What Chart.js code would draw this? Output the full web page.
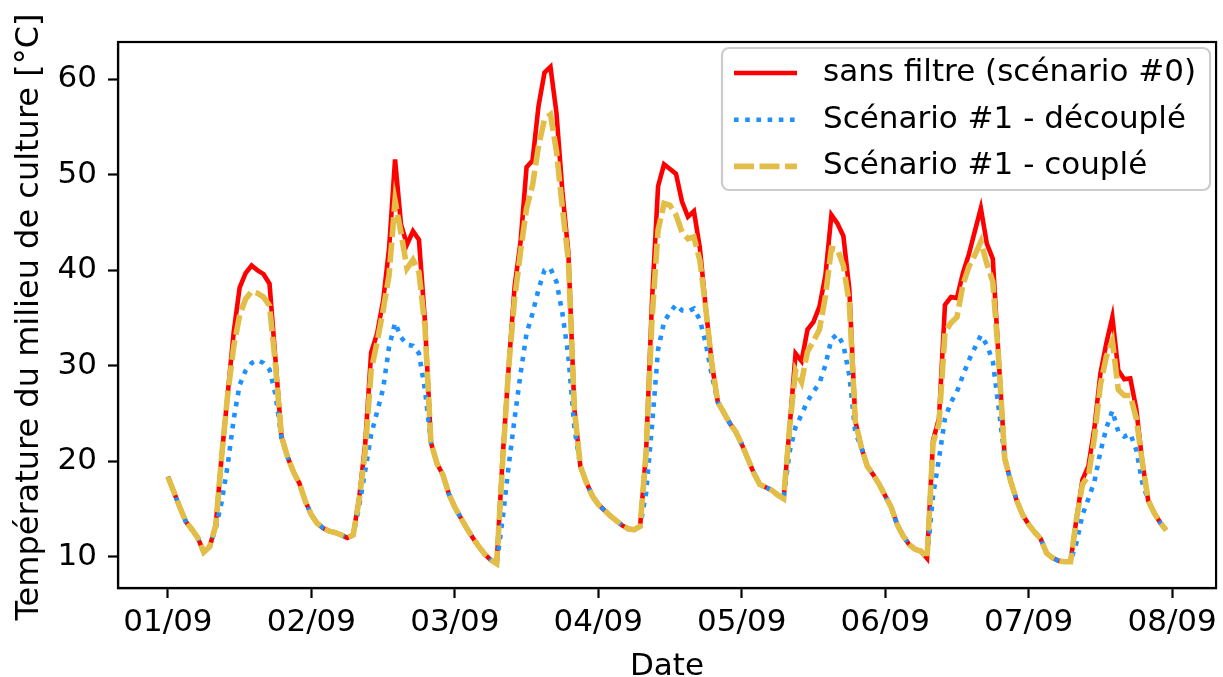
<!DOCTYPE html>
<html lang="fr">
<head>
<meta charset="utf-8">
<title>Température du milieu de culture</title>
<script src="https://cdn.jsdelivr.net/npm/chart.js@4.4.0/dist/chart.umd.min.js"></script>
<style>
  html, body { margin: 0; padding: 0; background: #fff; }
  #graphe { display: block; }
</style>
</head>
<body>
<canvas id="graphe" width="1223" height="677"></canvas>
<script>
// libellés des jours (un tick toutes les 24 h)
const jours = ['01/09', '02/09', '03/09', '04/09', '05/09', '06/09', '07/09', '08/09']
const graduationsY = [10, 20, 30, 40, 50, 60]
const titreAxeY = 'Température du milieu de culture [°C]'

// valeurs horaires, une ligne par jour
const sansFiltre = [
  18.4, 16.8, 15.2, 13.7, 12.9, 12.0, 10.5, 11.1, 13.3, 20.6, 27.0, 33.5, 38.2, 39.7, 40.5, 40.0, 39.6, 38.6, 30.6, 22.6, 20.5, 18.9, 17.7, 15.8,
  14.4, 13.5, 13.0, 12.7, 12.55, 12.3, 12.0, 12.3, 16.2, 21.8, 31.4, 33.4, 36.8, 42.3, 51.6, 44.8, 42.7, 44.1, 43.2, 34.7, 22.0, 19.8, 18.6, 16.6,
  15.2, 14.1, 13.0, 12.0, 11.1, 10.3, 9.7, 9.3, 20.4, 29.8, 38.3, 43.0, 50.8, 51.5, 57.2, 60.7, 61.3, 56.5, 48.2, 41.8, 25.5, 19.5, 17.8, 16.4,
  15.5, 14.9, 14.3, 13.8, 13.3, 12.95, 12.85, 13.2, 21.0, 37.0, 48.8, 51.1, 50.6, 50.1, 47.2, 45.6, 46.2, 42.3, 35.9, 30.2, 26.2, 25.1, 24.0, 23.1,
  21.8, 20.3, 18.8, 17.6, 17.3, 17.0, 16.5, 16.1, 23.5, 31.3, 30.5, 33.8, 34.6, 36.2, 39.5, 45.8, 44.9, 43.6, 38.0, 24.2, 21.5, 19.5, 18.6, 17.6,
  16.4, 15.2, 13.4, 12.2, 11.3, 10.8, 10.6, 9.86, 22.2, 24.5, 36.4, 37.2, 37.1, 39.7, 41.7, 44.1, 46.5, 42.8, 41.2, 30.5, 20.3, 17.9, 15.9, 14.4,
  13.4, 12.6, 11.9, 10.4, 9.9, 9.6, 9.5, 9.5, 14.0, 18.1, 19.5, 23.5, 29.2, 32.4, 35.1, 29.5, 28.6, 28.7, 25.5, 20.0, 15.9, 14.6, 13.6, 12.8
]
const decouple = [
  18.4, 16.8, 15.2, 13.7, 12.9, 12.0, 10.5, 11.1, 13.0, 15.8, 19.6, 24.4, 28.0, 29.5, 30.3, 30.6, 30.3, 29.6, 27.0, 22.4, 20.5, 18.9, 17.7, 15.8,
  14.4, 13.5, 13.0, 12.7, 12.55, 12.3, 12.0, 12.3, 15.3, 19.0, 22.8, 25.2, 27.6, 32.0, 34.5, 33.0, 32.2, 32.1, 31.3, 27.5, 22.0, 19.8, 18.6, 16.6,
  15.2, 14.1, 13.0, 12.0, 11.1, 10.3, 9.7, 9.3, 14.0, 19.5, 24.5, 29.2, 33.4, 35.5, 38.0, 40.0, 40.2, 38.8, 35.5, 31.0, 23.5, 19.5, 17.8, 16.4,
  15.5, 14.9, 14.3, 13.8, 13.3, 12.95, 12.85, 13.2, 16.7, 23.8, 31.7, 34.6, 35.6, 36.4, 35.8, 35.7, 36.0, 34.8, 32.3, 29.0, 26.2, 25.1, 24.0, 23.1,
  21.8, 20.3, 18.8, 17.6, 17.3, 17.0, 16.5, 16.1, 21.0, 23.6, 24.9, 26.3, 27.3, 28.2, 30.1, 32.8, 33.3, 32.2, 29.0, 23.0, 21.5, 19.5, 18.6, 17.6,
  16.4, 15.2, 13.4, 12.2, 11.3, 10.8, 10.6, 9.86, 16.4, 20.3, 24.5, 26.2, 27.3, 29.0, 30.6, 31.9, 33.2, 32.2, 30.5, 25.5, 20.3, 17.9, 15.9, 14.4,
  13.4, 12.6, 11.9, 10.4, 9.9, 9.6, 9.5, 9.5, 11.5, 14.4, 16.1, 17.9, 21.0, 23.5, 25.3, 23.1, 22.6, 22.9, 21.2, 17.8, 15.9, 14.6, 13.6, 12.8
]
const couple = [
  18.4, 16.8, 15.2, 13.7, 12.9, 12.0, 10.5, 11.1, 13.3, 20.6, 27.0, 32.0, 35.3, 37.0, 37.8, 37.6, 37.2, 36.3, 30.0, 22.6, 20.5, 18.9, 17.7, 15.8,
  14.4, 13.5, 13.0, 12.7, 12.55, 12.3, 12.0, 12.3, 16.0, 21.0, 29.5, 32.5, 35.8, 39.5, 47.3, 43.9, 40.2, 41.1, 39.8, 34.1, 22.0, 19.8, 18.6, 16.6,
  15.2, 14.1, 13.0, 12.0, 11.1, 10.3, 9.7, 9.3, 20.0, 29.8, 37.0, 42.0, 46.5, 48.9, 53.0, 55.8, 56.3, 52.5, 46.5, 41.0, 25.5, 19.5, 17.8, 16.4,
  15.5, 14.9, 14.3, 13.8, 13.3, 12.95, 12.85, 13.2, 21.0, 35.0, 44.2, 47.0, 46.8, 45.8, 44.0, 43.3, 43.5, 41.0, 35.9, 30.2, 26.2, 25.1, 24.0, 23.1,
  21.8, 20.3, 18.8, 17.6, 17.3, 17.0, 16.5, 16.1, 23.5, 29.5, 28.3, 31.5, 32.6, 33.8, 37.3, 42.3, 42.2, 40.5, 36.5, 24.2, 21.5, 19.5, 18.6, 17.6,
  16.4, 15.2, 13.4, 12.2, 11.3, 10.8, 10.6, 9.86, 21.9, 24.0, 33.5, 34.5, 35.1, 38.5, 40.4, 41.6, 43.0, 40.7, 38.8, 30.5, 20.3, 17.9, 15.9, 14.4,
  13.4, 12.6, 11.9, 10.4, 9.9, 9.6, 9.5, 9.5, 14.0, 17.6, 18.5, 22.5, 28.0, 31.0, 32.6, 27.5, 26.9, 26.9, 24.5, 20.0, 15.9, 14.6, 13.6, 12.8
]

const police = '"DejaVu Sans", sans-serif'

// x = heure depuis le 01/09 00:00
function points(valeurs) {
  return valeurs.map((v, h) => ({ x: h, y: v }))
}

// cadre complet autour de la zone de tracé
const cadre = {
  id: 'cadre',
  afterDatasetsDraw(chart) {
    const { ctx, chartArea: a } = chart
    ctx.save()
    ctx.strokeStyle = '#000'
    ctx.lineWidth = 2.2
    ctx.strokeRect(a.left, a.top, a.right - a.left, a.bottom - a.top)
    ctx.restore()
  }
}

// titre vertical (trop long pour le titre d'axe de Chart.js)
const titreY = {
  id: 'titreY',
  afterDraw(chart) {
    const { ctx, chartArea: a } = chart
    ctx.save()
    ctx.translate(30, (a.top + a.bottom) / 2 + 2)
    ctx.rotate(-Math.PI / 2)
    ctx.font = '32px ' + police
    ctx.fillStyle = '#000'
    ctx.textAlign = 'center'
    ctx.textBaseline = 'middle'
    ctx.fillText(titreAxeY, 0, 0)
    ctx.restore()
  }
}

// légende dans le coin haut droit, façon matplotlib
const legende = {
  id: 'legende',
  afterDraw(chart) {
    const { ctx, chartArea: a } = chart
    const series = chart.data.datasets
    ctx.save()
    ctx.font = '31px ' + police
    const largeur = 101 + Math.max(...series.map(d => ctx.measureText(d.label).width)) + 14
    const hauteur = 142
    const x = a.right - 6 - largeur
    const y = a.top + 6
    ctx.beginPath()
    ctx.roundRect(x, y, largeur, hauteur, 7)
    ctx.fillStyle = 'rgba(255,255,255,0.8)'
    ctx.fill()
    ctx.strokeStyle = '#cccccc'
    ctx.lineWidth = 2.2
    ctx.stroke()
    series.forEach((d, i) => {
      const cy = y + 25 + i * 46.7
      ctx.beginPath()
      ctx.setLineDash(d.borderDash || [])
      ctx.lineCap = 'butt'
      ctx.strokeStyle = d.borderColor
      ctx.lineWidth = d.borderWidth
      ctx.moveTo(x + 12, cy)
      ctx.lineTo(x + 75, cy)
      ctx.stroke()
      ctx.setLineDash([])
      ctx.fillStyle = '#000'
      ctx.textBaseline = 'middle'
      ctx.fillText(d.label, x + 101, cy)
    })
    ctx.restore()
  }
}

new Chart(document.getElementById('graphe'), {
  type: 'line',
  data: {
    datasets: [
      { label: 'sans filtre (scénario #0)', data: points(sansFiltre), borderColor: '#ff0000', borderWidth: 4.6, order: 3 },
      { label: 'Scénario #1 - découplé', data: points(decouple), borderColor: '#1e90ff', borderWidth: 4.6, borderDash: [4.6, 6.6], order: 2 },
      { label: 'Scénario #1 - couplé', data: points(couple), borderColor: '#e2be48', borderWidth: 5.6, borderDash: [20, 5.5], order: 1 }
    ]
  },
  options: {
    responsive: false,
    animation: false,
    devicePixelRatio: 1,
    layout: { padding: { top: 42, right: 5, bottom: 0, left: 0 } },
    elements: {
      point: { radius: 0 },
      line: { tension: 0, fill: false, borderCapStyle: 'butt' }
    },
    plugins: { legend: { display: false }, tooltip: { enabled: false } },
    scales: {
      x: {
        type: 'linear',
        min: -8.35,
        max: 175.35,
        afterBuildTicks: s => { s.ticks = jours.map((_, i) => ({ value: i * 24 })) },
        afterFit: s => { s.height = 89 },
        ticks: {
          autoSkip: false,
          maxRotation: 0,
          padding: 6,
          color: '#000',
          font: { family: police, size: 31, lineHeight: 1.2 },
          callback: v => jours[Math.round(v / 24)]
        },
        grid: { drawOnChartArea: false, drawTicks: true, tickLength: 10, tickWidth: 2.2, tickColor: '#000' },
        border: { display: true, color: '#000', width: 2.2 },
        title: {
          display: true,
          text: 'Date',
          color: '#000',
          font: { family: police, size: 31, lineHeight: 1 },
          padding: { top: 0, bottom: -5 }
        }
      },
      y: {
        type: 'linear',
        min: 6.75,
        max: 63.9,
        afterBuildTicks: s => { s.ticks = graduationsY.map(v => ({ value: v })) },
        afterFit: s => { s.width = 118 },
        ticks: {
          padding: 11,
          color: '#000',
          font: { family: police, size: 31 }
        },
        grid: { drawOnChartArea: false, drawTicks: true, tickLength: 10, tickWidth: 2.2, tickColor: '#000' },
        border: { display: true, color: '#000', width: 2.2 }
      }
    }
  },
  plugins: [cadre, titreY, legende]
})
</script>
</body>
</html>
